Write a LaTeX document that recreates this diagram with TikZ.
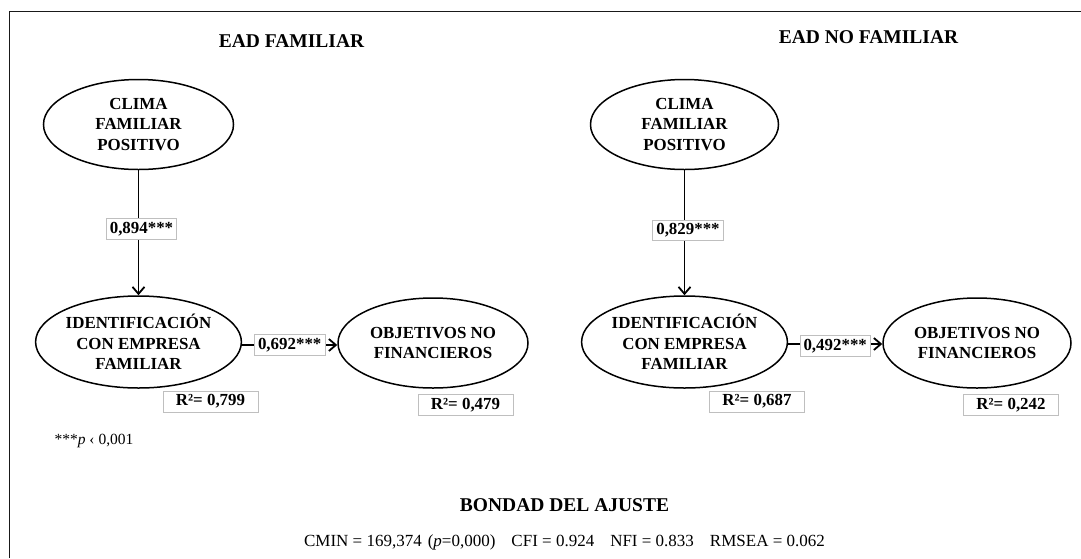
\documentclass[tikz,border=0pt]{standalone}
\usepackage{fontspec}
\setmainfont{Liberation Serif}
\usetikzlibrary{shapes.geometric,arrows.meta}
\tikzset{
  lat/.style={draw=black, line width=1.5pt, ellipse, minimum width=190pt, minimum height=90pt, inner sep=0pt, align=center, font=\fontsize{16.9}{20.3}\selectfont\bfseries},
  arr/.style={line width=1.8pt, -{Straight Barb[length=7pt,width=12pt,line width=1.8pt]}},
  lbl/.style={draw=black!25, line width=0.7pt, fill=white, inner xsep=3.5pt, inner ysep=1pt, minimum height=20.5pt, font=\fontsize{16.9}{20}\selectfont\bfseries},
  rsq/.style={draw=black!25, line width=0.7pt, fill=white, minimum width=95pt, minimum height=21pt, inner sep=1pt, font=\fontsize{16.9}{20}\selectfont\bfseries},
  ttl/.style={font=\fontsize{19.5}{23}\selectfont\bfseries},
}
\begin{document}
\begin{tikzpicture}[x=1pt,y=-1pt]
\useasboundingbox (0,0) rectangle (1081,558);
\draw[line width=1.5pt, black!90] (9.5,558) -- (9.5,11.5) -- (1081,11.5);

% left panel
\node[ttl] (t1) at (291.5,41) {EAD FAMILIAR};
\node[lat] (c1) at (138.5,124.5) {CLIMA\\FAMILIAR\\POSITIVO};
\node[lat, minimum height=92pt] (i1) at (138.5,342) {IDENTIFICACIÓN\\CON EMPRESA\\FAMILIAR};
\node[lat] (o1) at (433,343) {OBJETIVOS NO\\FINANCIEROS};
\draw[arr] (c1) -- (i1) node[lbl, pos=0.47, xshift=3pt] (l1) {0,894***};
\draw[arr] (i1.east |- 0,345) -- (o1.west |- 0,345) node[lbl, pos=0.5] (l2) {0,692***};
\node[rsq] (r1) at (210.5,401.5) {R²= 0,799};
\node[rsq] (r2) at (465.5,405) {R²= 0,479};
\node[font=\fontsize{15.5}{18}\selectfont] (fn) at (94,441) {***\textit{p} ‹ 0,001};

% right panel
\node[ttl] (t2) at (868.5,37) {EAD NO FAMILIAR};
\node[lat, minimum width=188pt] (c2) at (684.5,124.5) {CLIMA\\FAMILIAR\\POSITIVO};
\node[lat, minimum width=188pt, minimum height=92pt] (i2) at (684.5,342) {IDENTIFICACIÓN\\CON EMPRESA\\FAMILIAR};
\node[lat, minimum width=188pt] (o2) at (977,343) {OBJETIVOS NO\\FINANCIEROS};
\draw[arr] (c2) -- (i2) node[lbl, pos=0.48, xshift=3.5pt] (l3) {0,829***};
\draw[arr] (i2.east |- 0,344) -- (o2.west |- 0,344) node[lbl, pos=0.5, yshift=-2pt] (l4) {0,492***};
\node[rsq] (r3) at (757,401.5) {R²= 0,687};
\node[rsq] (r4) at (1011,405) {R²= 0,242};

% fit
\node[ttl] (bt) at (564.5,505) {BONDAD DEL AJUSTE};
\node[font=\fontsize{17}{20}\selectfont] (fit) at (564.5,542) {CMIN = 169,374\hspace{6pt}(\textit{p}=0,000)\hspace{16pt}CFI = 0.924\hspace{16pt}NFI = 0.833\hspace{16pt}RMSEA = 0.062};
\end{tikzpicture}
\end{document}
